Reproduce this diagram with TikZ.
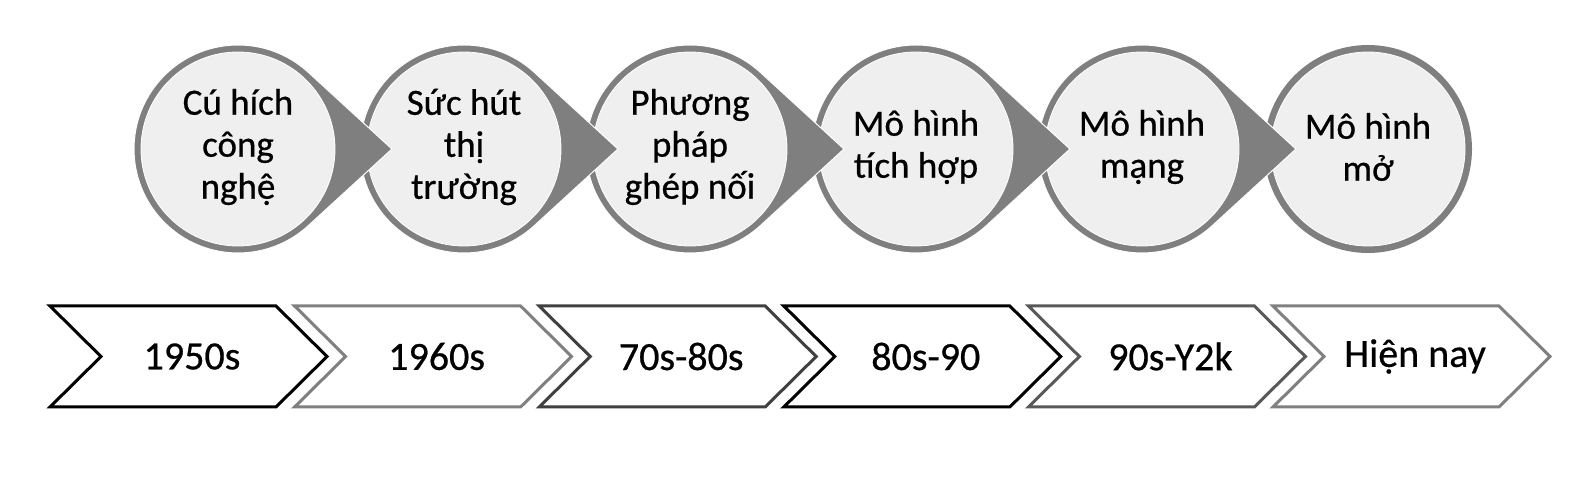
\documentclass[tikz,border=0pt]{standalone}
\usepackage{fontspec}
\setmainfont{Carlito}[RawFeature={embolden=0.6}]
\definecolor{ringgray}{HTML}{7F7F7F}
\definecolor{innergray}{HTML}{EFEFEF}
\definecolor{chevA}{HTML}{000000}
\definecolor{chevB}{HTML}{808080}
\definecolor{chevC}{HTML}{404040}
\definecolor{chevD}{HTML}{595959}
\tikzset{
  tear/.style={fill=ringgray, draw=white, line width=1pt},
  inner/.style={fill=innergray, draw=white, line width=0.8pt},
  circtext/.style={align=center, font=\fontsize{37}{42}\selectfont, inner sep=0pt},
  chev/.style={fill=white, line width=3pt, line join=miter},
  chevtext/.style={font=\fontsize{40}{46}\selectfont, inner sep=0pt},
}
\begin{document}
\begin{tikzpicture}[x=1pt,y=1pt]
\useasboundingbox[fill=white] (0,0) rectangle (1589,479);
% circles (drawn right to left so that each tip lies over the next circle)
\def\cy{330}
% circle 6: plain
\fill[ringgray] (1368,\cy) circle[radius=104];
\path[inner] (1368,\cy) circle[radius=97];
\node[circtext] (c6) at (1368,\cy+2) {Mô hình\\mở};
\foreach \cx/\name/\txt in {
  1142/c5/{Mô hình\\mạng},
  916/c4/{Mô hình\\tích hợp},
  690/c3/{Phương\\pháp\\ghép nối},
  464/c2/{Sức hút\\thị\\trường},
  238/c1/{Cú hích\\công\\nghệ}} {
  \path[tear] (\cx+153.9,\cy) -- (\cx+70.26,\cy+76.68)
     arc[start angle=47.5, end angle=312.5, radius=104] -- cycle;
  \path[inner] (\cx,\cy) circle[radius=97];
  \node[circtext] (\name) at (\cx,\cy+2) {\txt};
}
% chevrons
\foreach \i/\col/\name/\txt in {
  0/chevA/t1/1950s,
  1/chevB/t2/1960s,
  2/chevC/t3/70s-80s,
  3/chevA/t4/80s-90,
  4/chevD/t5/90s-Y2k,
  5/chevB/t6/Hiện nay} {
  \pgfmathsetmacro\L{50+244.6*\i}
  \draw[chev, draw=\col] (\L,173) -- (\L+226,173) -- (\L+277,122.5)
     -- (\L+226,72) -- (\L,72) -- (\L+51,122.5) -- cycle;
  \node[chevtext] (\name) at (\L+142,122.5) {\txt};
}
\end{tikzpicture}
\end{document}
